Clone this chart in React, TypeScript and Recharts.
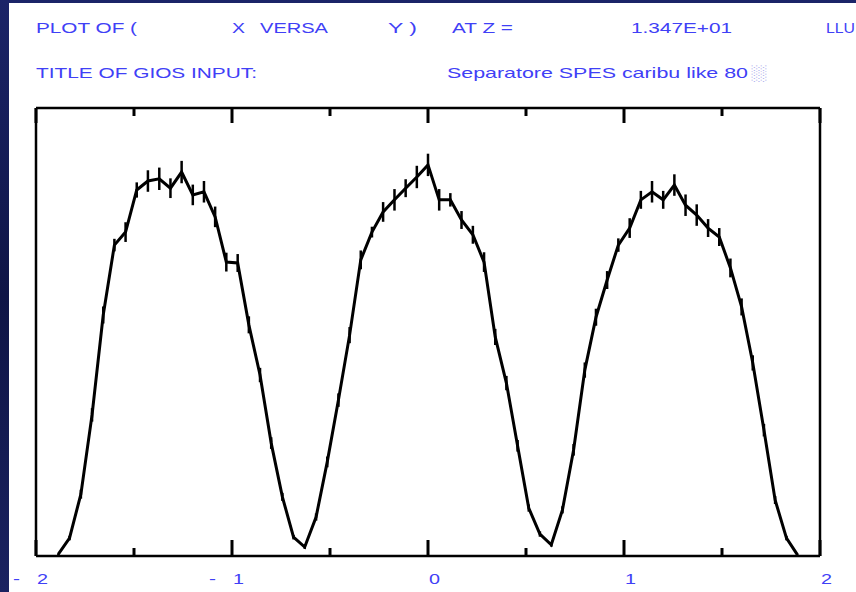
import { LineChart, Line, XAxis, YAxis, ErrorBar } from 'recharts';

// bin centres (x), counts per bin (normalised 0-100) and statistical errors
const binX = [
  -1.886, -1.829, -1.771, -1.714, -1.657, -1.6, -1.543, -1.486, -1.429, -1.371,
  -1.314, -1.257, -1.2, -1.143, -1.086, -1.029, -0.971, -0.914, -0.857, -0.8,
  -0.743, -0.686, -0.629, -0.571, -0.514, -0.457, -0.4, -0.343, -0.286, -0.229,
  -0.171, -0.114, -0.057, 0, 0.057, 0.114, 0.171, 0.229, 0.286, 0.343,
  0.4, 0.457, 0.514, 0.571, 0.629, 0.686, 0.743, 0.8, 0.857, 0.914,
  0.971, 1.029, 1.086, 1.143, 1.2, 1.257, 1.314, 1.371, 1.429, 1.486,
  1.543, 1.6, 1.657, 1.714, 1.771, 1.829, 1.886,
];

const counts = [
  0.4, 4.0, 13.8, 31.5, 53.8, 69.4, 72.3, 81.7, 83.7, 84.2,
  82.1, 85.7, 80.6, 81.3, 75.7, 65.6, 65.4, 51.6, 40.4, 25.2,
  13.2, 4.2, 2.0, 8.7, 21.0, 34.8, 49.3, 66.1, 72.3, 76.8,
  79.5, 82.1, 84.6, 87.3, 79.5, 79.5, 75.0, 71.7, 65.6, 48.9,
  38.6, 24.6, 10.7, 4.9, 2.5, 10.3, 23.7, 41.5, 53.3, 61.6,
  69.4, 73.2, 79.5, 81.3, 79.5, 82.8, 78.3, 76.1, 73.2, 71.2,
  64.3, 55.6, 43.1, 28.1, 12.5, 4.0, 0.2,
];

const errs = [
  0.2, 0.5, 1.0, 1.5, 1.9, 1.4, 2.2, 1.7, 2.4, 2.5,
  2.2, 2.5, 2.3, 2.4, 2.3, 2.1, 2.0, 1.9, 1.6, 1.3,
  0.9, 0.5, 0.4, 0.8, 1.2, 1.5, 1.8, 2.1, 1.2, 2.2,
  2.4, 2.0, 2.5, 2.5, 2.4, 1.5, 2.0, 2.0, 2.2, 1.8,
  1.6, 1.3, 0.8, 0.6, 0.4, 0.8, 1.3, 1.7, 1.9, 2.0,
  1.5, 2.2, 2.0, 2.4, 2.0, 2.4, 2.4, 2.4, 2.0, 2.0,
  2.1, 1.9, 1.7, 1.4, 0.9, 0.5, 0.1,
];

const xTicks = [-2, -1.5, -1, -0.5, 0, 0.5, 1, 1.5, 2];

const data = binX.map((x, i) => ({ x, y: counts[i], err: errs[i] }));

const BLUE = '#4040f6';
const FONT = '"Liberation Sans", Arial, sans-serif';

function Txt({ x, y, w, children, fill = BLUE }: any) {
  return (
    <text
      x={x}
      y={y}
      fill={fill}
      fontFamily={FONT}
      fontSize={15}
      textLength={w}
      lengthAdjust="spacingAndGlyphs"
    >
      {children}
    </text>
  );
}

function BottomTick(props: any) {
  const { x, y, payload } = props;
  const v = payload.value;
  const major = Number.isInteger(v);
  return (
    <g>
      <line x1={x} x2={x} y1={y} y2={y - (major ? 16 : 8)} stroke="#000" strokeWidth={3} />
      {major && v < 0 && (
        <Txt x={x - 23} y={y + 28} w={7}>-</Txt>
      )}
      {major && (
        <Txt x={x + 1} y={y + 28} w={11}>{String(Math.abs(v))}</Txt>
      )}
    </g>
  );
}

function TopTick(props: any) {
  const { x, y, payload } = props;
  const major = Number.isInteger(payload.value);
  return <line x1={x} x2={x} y1={y} y2={y + (major ? 15 : 8)} stroke="#000" strokeWidth={3} />;
}

const axisStyle = { stroke: '#000', strokeWidth: 2.5 };

export default function App() {
  return (
    <div
      style={{
        position: 'absolute',
        left: 0,
        top: 0,
        width: 856,
        height: 592,
        background: 'linear-gradient(180deg, #1b2468 0%, #0f1546 50%, #1a2260 100%)',
        overflow: 'hidden',
      }}
    >
      <div style={{ position: 'absolute', left: 9, top: 3, right: 0, bottom: 0, background: '#fff' }} />
      <svg width={856} height={100} style={{ position: 'absolute', left: 0, top: 0 }}>
        <Txt x={36} y={33} w={101}>PLOT OF (</Txt>
        <Txt x={232} y={33} w={13}>X</Txt>
        <Txt x={260} y={33} w={68}>VERSA</Txt>
        <Txt x={388} y={33} w={29}>Y )</Txt>
        <Txt x={452} y={33} w={61}>AT Z =</Txt>
        <Txt x={631} y={33} w={101}>1.347E+01</Txt>
        <Txt x={826} y={33} w={29}>LLU</Txt>
        <Txt x={36} y={78} w={221}>TITLE OF GIOS INPUT:</Txt>
        <Txt x={447} y={78} w={301}>Separatore SPES caribu like 80</Txt>
        <Txt x={750} y={78} w={16} fill="#9a9ae8">░</Txt>
      </svg>
      <div style={{ position: 'absolute', left: 0, top: 0 }}>
        <LineChart width={856} height={592} data={data} margin={{ top: 107, right: 35, bottom: 6, left: 35 }}>
          <XAxis
            dataKey="x"
            type="number"
            domain={[-2, 2]}
            ticks={xTicks}
            interval={0}
            height={30}
            tickSize={0}
            tickMargin={0}
            tickLine={false}
            tick={<BottomTick />}
            axisLine={axisStyle}
            allowDataOverflow
          />
          <XAxis
            xAxisId="top"
            dataKey="x"
            orientation="top"
            type="number"
            domain={[-2, 2]}
            ticks={xTicks}
            interval={0}
            height={1}
            tickSize={0}
            tickMargin={0}
            tickLine={false}
            tick={<TopTick />}
            axisLine={axisStyle}
            allowDataOverflow
          />
          <YAxis type="number" domain={[0, 100]} width={1} tick={false} tickLine={false} axisLine={axisStyle} allowDataOverflow />
          <YAxis
            yAxisId="r"
            orientation="right"
            type="number"
            domain={[0, 100]}
            width={1}
            tick={false}
            tickLine={false}
            axisLine={axisStyle}
          />
          {/* invisible copy so the top frame axis gets the same scale */}
          <Line
            xAxisId="top"
            yAxisId="r"
            type="linear"
            dataKey="y"
            stroke="none"
            dot={false}
            activeDot={false}
            isAnimationActive={false}
          />
          <Line
            type="linear"
            dataKey="y"
            stroke="#000"
            strokeWidth={3}
            dot={false}
            isAnimationActive={false}
          >
            <ErrorBar dataKey="err" width={0} stroke="#000" strokeWidth={2.5} direction="y" />
          </Line>
        </LineChart>
      </div>
    </div>
  );
}
